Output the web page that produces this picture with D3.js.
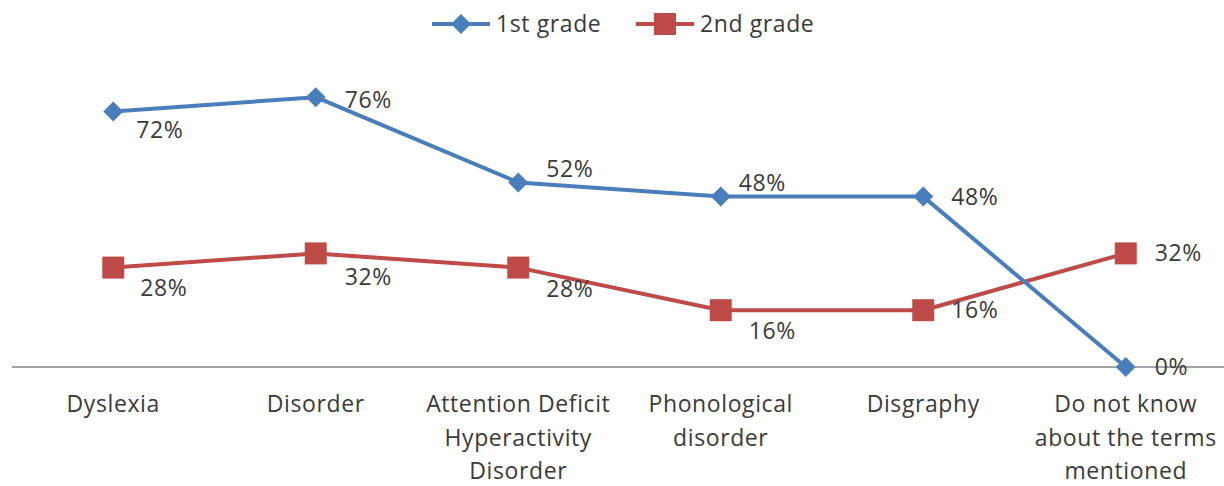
<!DOCTYPE html>
<html><head><meta charset="utf-8">
<script src="https://cdn.jsdelivr.net/npm/d3@7"></script>
<style>body{margin:0;background:#fff}svg{display:block}text{font-family:"Open Sans",Lato,sans-serif;letter-spacing:0.6px}</style>
</head><body><svg id="c" width="1224" height="486"></svg>
<script>
const categories = [["Dyslexia"],["Disorder"],["Attention Deficit","Hyperactivity","Disorder"],["Phonological","disorder"],["Disgraphy"],["Do not know","about the terms","mentioned"]];
const grade1 = [72,76,52,48,48,0];
const grade2 = [28,32,28,16,16,32];
const seriesNames = ["1st grade","2nd grade"];
// label offsets (layout only)
const off1 = [[23,19],[29,3],[28,-13],[18,-14],[28,0],[29,0]];
const off2 = [[27,20],[29,24],[28,21],[28,21],[28,0],[29,0]];

const svg = d3.select("#c");
const x = d3.scaleBand().domain(d3.range(6)).range([12,1227]);
const y = d3.scaleLinear().domain([0,80]).range([367,83]);
const cx = i => x(i)+x.bandwidth()/2;
const colors = ["#4A7EBB","#BE4B48"];
const FS = 23;
const TC = "#3a3a3a";

svg.append("line").attr("x1",12).attr("x2",1224).attr("y1",y(0)).attr("y2",y(0)).attr("stroke","#868686").attr("stroke-width",1.3);

const cat = svg.append("g");
categories.forEach((lines,i)=>{
  const t = cat.append("text").attr("x",cx(i)).attr("y",412).attr("text-anchor","middle").attr("font-size",FS).attr("fill",TC);
  lines.forEach((l,j)=>t.append("tspan").attr("x",cx(i)).attr("dy",j?33.5:0).text(l));
});

const line = d3.line().x((d,i)=>cx(i)).y(d=>y(d));

function drawSeries(vals, color, marker, offs){
  svg.append("path").datum(vals).attr("d",line).attr("fill","none").attr("stroke",color).attr("stroke-width",4).attr("stroke-linejoin","round");
  vals.forEach((v,i)=>{
    if(marker==="d"){
      svg.append("path").attr("d",d3.symbol().type(d3.symbolSquare).size(200)()).attr("transform",`translate(${cx(i)},${y(v)}) rotate(45)`).attr("fill",color);
    } else {
      svg.append("rect").attr("x",cx(i)-11).attr("y",y(v)-11).attr("width",22).attr("height",22).attr("fill",color);
    }
  });
  vals.forEach((v,i)=>{
    svg.append("text").attr("x",cx(i)+offs[i][0]).attr("y",y(v)+offs[i][1]).attr("dy","0.35em").attr("font-size",FS).attr("fill",TC).text(v+"%");
  });
}
drawSeries(grade2, colors[1], "s", off2);
drawSeries(grade1, colors[0], "d", off1);

// legend
const lg = svg.append("g");
const lx = [432,636];
seriesNames.forEach((n,k)=>{
  lg.append("line").attr("x1",lx[k]).attr("x2",lx[k]+58).attr("y1",24).attr("y2",24).attr("stroke",colors[k]).attr("stroke-width",4);
  if(k===0) lg.append("path").attr("d",d3.symbol().type(d3.symbolSquare).size(200)()).attr("transform",`translate(${lx[k]+29},24) rotate(45)`).attr("fill",colors[k]);
  else lg.append("rect").attr("x",lx[k]+18).attr("y",13).attr("width",22).attr("height",22).attr("fill",colors[k]);
  lg.append("text").attr("x",lx[k]+64).attr("y",24).attr("dy","0.35em").attr("font-size",FS).attr("fill",TC).text(n);
});
</script></body></html>
